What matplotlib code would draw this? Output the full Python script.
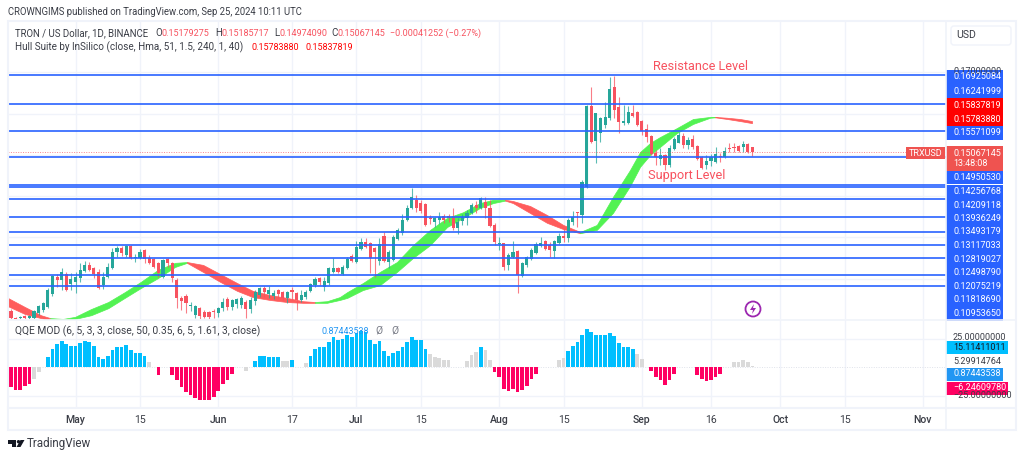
import matplotlib
matplotlib.use("Agg")
import matplotlib.pyplot as plt
from matplotlib.patches import Rectangle, Polygon, Circle, FancyBboxPatch
import numpy as np

plt.rcParams['font.family'] = ['Roboto', 'DejaVu Sans']

# days are counted from May 1 2024, prices in 1/10000 USD
days = np.arange(-14, 148)

opens = [1121, 1104, 1104, 1109, 1104, 1104, 1116, 1124, 1131, 1162,
         1204, 1196, 1211, 1187, 1192, 1201, 1218, 1233, 1225, 1216,
         1184, 1204, 1225, 1264, 1274, 1257, 1279, 1250, 1250, 1269,
         1250, 1247, 1238, 1204, 1247, 1238, 1196, 1153, 1157, 1133,
         1111, 1128, 1119, 1119, 1121, 1116, 1128, 1150, 1131, 1138,
         1136, 1143, 1126, 1145, 1160, 1177, 1162, 1157, 1172, 1167,
         1153, 1172, 1165, 1148, 1155, 1170, 1184, 1201, 1179, 1189,
         1216, 1225, 1211, 1225, 1255, 1240, 1272, 1289, 1286, 1274,
         1242, 1303, 1240, 1245, 1296, 1310, 1342, 1371, 1391, 1383,
         1381, 1347, 1337, 1342, 1352, 1352, 1347, 1323, 1340, 1347,
         1359, 1378, 1371, 1386, 1371, 1330, 1284, 1286, 1233, 1252,
         1267, 1206, 1233, 1247, 1262, 1279, 1291, 1281, 1267, 1286,
         1303, 1298, 1337, 1361, 1354, 1422, 1618, 1534, 1553, 1572,
         1590, 1665, 1616, 1577, 1577, 1602, 1604, 1582, 1563, 1546,
         1504, 1490, 1500, 1475, 1514, 1529, 1546, 1524, 1538, 1521,
         1495, 1475, 1485, 1483, 1497, 1495, 1517, 1519, 1521, 1519, 1526, 1518]
highs = [1126, 1107, 1109, 1111, 1111, 1124, 1136, 1143, 1177, 1208,
         1211, 1225, 1216, 1213, 1216, 1238, 1242, 1240, 1228, 1223,
         1216, 1238, 1274, 1279, 1279, 1281, 1281, 1259, 1272, 1272,
         1257, 1250, 1240, 1247, 1250, 1240, 1201, 1157, 1162, 1143,
         1136, 1131, 1124, 1121, 1126, 1131, 1153, 1155, 1150, 1153,
         1157, 1148, 1155, 1172, 1179, 1182, 1182, 1172, 1175, 1170,
         1170, 1179, 1167, 1172, 1172, 1189, 1204, 1204, 1204, 1228,
         1250, 1228, 1233, 1252, 1259, 1291, 1298, 1298, 1289, 1276,
         1298, 1313, 1269, 1306, 1323, 1357, 1378, 1420, 1403, 1391,
         1383, 1354, 1349, 1361, 1357, 1357, 1371, 1347, 1357, 1366,
         1383, 1388, 1398, 1398, 1391, 1335, 1301, 1286, 1262, 1291,
         1269, 1240, 1255, 1274, 1289, 1301, 1293, 1289, 1293, 1310,
         1323, 1347, 1364, 1361, 1439, 1621, 1665, 1602, 1592, 1628,
         1689, 1691, 1640, 1621, 1618, 1621, 1606, 1585, 1575, 1548,
         1512, 1517, 1502, 1524, 1543, 1555, 1553, 1543, 1548, 1524,
         1497, 1500, 1502, 1519, 1504, 1519, 1529, 1529, 1524, 1534, 1529, 1519]
lows = [1102, 1102, 1102, 1102, 1102, 1102, 1111, 1119, 1128, 1157,
        1179, 1172, 1170, 1172, 1165, 1192, 1216, 1218, 1201, 1175,
        1175, 1201, 1223, 1252, 1255, 1252, 1247, 1240, 1247, 1238,
        1235, 1225, 1204, 1201, 1228, 1192, 1128, 1124, 1116, 1121,
        1104, 1102, 1104, 1102, 1104, 1107, 1121, 1124, 1124, 1128,
        1128, 1104, 1116, 1136, 1155, 1155, 1153, 1150, 1153, 1148,
        1141, 1148, 1124, 1143, 1150, 1167, 1179, 1184, 1170, 1184,
        1213, 1213, 1208, 1223, 1240, 1238, 1269, 1274, 1213, 1204,
        1233, 1240, 1225, 1242, 1293, 1306, 1340, 1369, 1361, 1359,
        1327, 1332, 1325, 1332, 1335, 1337, 1318, 1308, 1330, 1330,
        1357, 1359, 1369, 1347, 1325, 1281, 1269, 1221, 1221, 1250,
        1165, 1204, 1228, 1245, 1259, 1276, 1269, 1252, 1250, 1284,
        1289, 1289, 1330, 1325, 1335, 1420, 1529, 1480, 1531, 1565,
        1585, 1590, 1553, 1572, 1575, 1592, 1570, 1548, 1531, 1500,
        1475, 1475, 1463, 1471, 1512, 1529, 1517, 1514, 1514, 1487,
        1466, 1466, 1473, 1480, 1483, 1492, 1507, 1507, 1507, 1507, 1504, 1497]
closes = [1104, 1103, 1107, 1104, 1109, 1121, 1133, 1141, 1172, 1206,
          1196, 1216, 1172, 1199, 1204, 1221, 1233, 1221, 1211, 1177,
          1204, 1228, 1264, 1274, 1262, 1279, 1250, 1252, 1264, 1247,
          1238, 1228, 1213, 1245, 1238, 1201, 1153, 1145, 1141, 1136,
          1133, 1109, 1107, 1107, 1119, 1128, 1143, 1131, 1148, 1150,
          1153, 1126, 1148, 1167, 1177, 1167, 1172, 1165, 1162, 1153,
          1167, 1167, 1148, 1160, 1167, 1187, 1199, 1192, 1194, 1225,
          1225, 1216, 1228, 1247, 1242, 1276, 1289, 1276, 1250, 1264,
          1284, 1242, 1264, 1301, 1318, 1342, 1371, 1398, 1371, 1364,
          1330, 1344, 1347, 1349, 1342, 1347, 1323, 1337, 1349, 1359,
          1378, 1371, 1395, 1371, 1327, 1289, 1286, 1228, 1257, 1264,
          1208, 1238, 1252, 1269, 1284, 1286, 1272, 1269, 1291, 1303,
          1298, 1342, 1349, 1359, 1434, 1618, 1531, 1602, 1590, 1592,
          1660, 1609, 1580, 1582, 1604, 1594, 1572, 1558, 1543, 1502,
          1495, 1500, 1475, 1517, 1538, 1548, 1524, 1536, 1519, 1490,
          1468, 1485, 1495, 1502, 1495, 1509, 1514, 1517, 1509, 1526, 1507, 1507]

# hull band edges, the colour flips at the turn days
hull_days = [-14.7, -11, -7.5, -5.5, -2.7, -0.1, 3.4, 7.1, 10.7, 14.2, 17.9, 21.6, 24.2,
             27.7, 31.4, 35.1, 38.5, 42.2, 45.9, 49.4, 52, 54.6, 57.4, 59, 62.4, 66.1,
             69.8, 73.3, 77, 80.7, 84.2, 87.8, 90.7, 93.3, 95, 98.7, 102.4, 105.9, 109.6,
             113.2, 116.7, 120.4, 122.6, 124.8, 126.9, 130.6, 134.1, 137.8, 138.9, 141.5,
             144.3, 146.9]
hull_top = [1153, 1131, 1111, 1104, 1102, 1107, 1126, 1143, 1167, 1192, 1221, 1238, 1240,
            1233, 1211, 1189, 1170, 1160, 1153, 1145, 1143, 1145, 1155, 1167, 1189, 1216,
            1240, 1281, 1318, 1347, 1361, 1383, 1391, 1391, 1388, 1376, 1354, 1330, 1313,
            1330, 1398, 1463, 1507, 1529, 1543, 1565, 1587, 1592, 1592, 1590,
            1587, 1582]
hull_bottom = [1133, 1114, 1104, 1099, 1097, 1102, 1111, 1128, 1153, 1177, 1201, 1228, 1238,
               1216, 1192, 1170, 1155, 1148, 1143, 1141, 1141, 1141, 1148, 1153, 1172, 1184,
               1216, 1250, 1281, 1325, 1347, 1371, 1383, 1389, 1383, 1359, 1335, 1320, 1310,
               1318, 1359, 1424, 1471, 1500, 1519, 1553, 1575, 1590, 1591, 1587,
               1582, 1577]
hull_turns = [-14.7, -5.5, 24.2, 52, 93.3, 109.6, 138.9, 146.9]
hull_turn_colors = ['#ff5c5c', '#52f252', '#ff5c5c', '#52f252', '#ff5c5c', '#52f252', '#ff5c5c']

# horizontal levels drawn on the chart
levels = [0.16925084, 0.16241999, 0.15571099, 0.14950530, 0.14256768, 0.14209118, 0.13936249,
          0.13493179, 0.13117033, 0.12819027, 0.12498790, 0.12075219, 0.11818690, 0.10953650]
last_close = 0.15067145

# QQE histogram, one bar a day
qqe_values = [-17.5, -19.6, -19.6, -16.7, -14.3, -10.2, -4.4, 0, 8.8, 16.4,
              20.5, 23.4, 20.5, 18.7, 18.7, 21, 22.8, 22.2, 18.7, 8.8,
              7.6, 9.6, 14.9, 17.8, 17.8, 19.3, 14.9, 12.6, 12.6, 9.6,
              4.7, 0, -6.4, 0, 0, -6.4, -10.8, -17.5, -21.6, -24.6,
              -26.9, -28.9, -28.4, -28.4, -26.3, -21, -14.6, -11.4, -5.8, 0,
              0, -2.9, 0, 5.3, 10.2, 10.2, 9.4, 8.8, 8.8, 5.3,
              5.3, 6.7, 0, 0, 3.8, 9.6, 16.4, 17.5, 17.8, 22.2,
              26.3, 24.3, 24.6, 28.7, 26.9, 30.1, 31.6, 31, 24.3, 20.8,
              22.8, 14, 10.2, 12.6, 14.6, 17.8, 22.2, 26.3, 24.3, 23.7,
              16.1, 11.7, 8.8, 8.2, 6.1, 6.7, 0, 0, 0, 5.3,
              11.1, 13.5, 17.8, 15.2, 6.1, -4.4, -8.5, -19, -20.5, -19,
              -21.3, -19.6, -16, -10.5, -5.8, 0, 0, 0, 0, 6.1,
              8.2, 14.6, 18.4, 22.2, 28.7, 33.9, 30.7, 28.7, 28.7, 28.7,
              30.1, 27.2, 21.3, 17.8, 17.5, 16.1, 11.7, 7.6, 0, -3.5,
              -8.5, -11.4, -15.2, -10.8, -5.6, 0, 0, 0, 0, -7,
              -10.2, -11.7, -10.8, -8.8, -5.8, 0, 0, 4.4, 4.4, 6.7, 4.7, 0.87]
qqe_gray_days = [-9, -8, 16, 37, 45, 46, 50, 77, 78, 79, 80, 81, 85, 86, 87, 89, 90,
                 105, 106, 122, 123, 143, 144, 145, 146, 147]

tick_days = [0, 14, 31, 47, 61, 75, 92, 106, 123, 138, 153, 167, 184]
tick_labels = ['May', '15', 'Jun', '17', 'Jul', '15', 'Aug', '15', 'Sep', '16', 'Oct', '15', 'Nov']

price_labels = ['0.16925084', '0.16241999', '0.15837819', '0.15783880', '0.15571099',
                '0.14950530', '0.14256768', '0.14209118', '0.13936249', '0.13493179',
                '0.13117033', '0.12819027', '0.12498790', '0.12075219', '0.11818690', '0.10953650']

W, H = 1024, 458
BLUE = '#2962ff'
TEAL = '#26a69a'
RED = '#f7525f'
GRID = '#f0f3fa'
TEXT = '#3a3d46'
NUM = 6.5  # numbers in the scales and legends

fig = plt.figure(figsize=(W / 100, H / 100), dpi=100, facecolor='white')


def pane(x0, y0, x1, y1):
    ax = fig.add_axes([x0 / W, 1 - y1 / H, (x1 - x0) / W, (y1 - y0) / H])
    for s in ax.spines.values():
        s.set_visible(False)
    ax.set_xlim(-14.66, 189.03)
    ax.set_xticks(tick_days)
    ax.tick_params(length=0, labelleft=False, labelbottom=False)
    ax.grid(True, color=GRID, lw=1)
    ax.set_axisbelow(True)
    return ax


# price pane
ax = pane(8, 21, 946, 319)
ax.set_ylim(0.11018, 0.18247)
ax.set_yticks([0.12, 0.13, 0.14, 0.15, 0.16, 0.17])

o = np.array(opens) / 1e4
h = np.array(highs) / 1e4
l = np.array(lows) / 1e4
c = np.array(closes) / 1e4
candle_colors = [TEAL if b >= a else RED for a, b in zip(o, c)]

hd = np.array(hull_days)
ht = np.array(hull_top) / 1e4
hb = np.array(hull_bottom) / 1e4
for i in range(len(hull_turn_colors)):
    m = (hd >= hull_turns[i]) & (hd <= hull_turns[i + 1])
    ax.fill_between(hd[m], hb[m], ht[m], color=hull_turn_colors[i], lw=0.5, zorder=2)

ax.vlines(days, l, h, colors=candle_colors, lw=0.8, alpha=0.75, zorder=3)
ax.bar(days, np.maximum(np.abs(c - o), 0.00008), bottom=np.minimum(o, c), width=0.68,
       color=candle_colors, zorder=4)

ax.axhline(last_close, color=RED, lw=0.7, ls=(0, (1, 1.5)), alpha=0.7, zorder=5)
ax.hlines(levels, -14.66, 189.03, colors=BLUE, lw=1.3, alpha=0.92, zorder=6)

# QQE pane
ax2 = pane(8, 320, 946, 407)
ax2.set_ylim(-34.8, 41.5)
ax2.set_yticks([-25, 25])
ax2.axhline(0, color='#dfe2ea', lw=0.7, ls=(0, (1, 1.5)))
qqe_colors = []
for d, v in zip(days, qqe_values):
    if d in qqe_gray_days:
        qqe_colors.append('#dadada')
    elif v >= 0:
        qqe_colors.append('#00bfff')
    else:
        qqe_colors.append('#ff0062')
ax2.bar(days, qqe_values, width=0.8, color=qqe_colors, zorder=3)
ax2.tick_params(labelbottom=True, pad=5.5, labelsize=7.6, labelcolor=TEXT)
ax2.set_xticklabels(tick_labels)
for t, s in zip(ax2.get_xticklabels(), tick_labels):
    if not s.isdigit():
        t.set_fontweight('medium')

# everything else sits on a pixel overlay
ov = fig.add_axes([0, 0, 1, 1], zorder=10)
ov.set_xlim(0, W)
ov.set_ylim(H, 0)
ov.axis('off')
ov.patch.set_alpha(0)

ov.add_patch(Rectangle((7.5, 21), 1008, 409, fill=False, ec=GRID, lw=1.5))
ov.plot([946, 946], [21, 430], color=GRID, lw=1.2)
ov.plot([8, 1015], [319.5, 319.5], color=GRID, lw=1.2)
ov.plot([8, 1015], [407.5, 407.5], color=GRID, lw=1.5)


def txt(x, y, s, color=TEXT, size=7.4, **kw):
    return ov.text(x, y, s, color=color, fontsize=size, va='center', **kw)


def box(x0, y0, x1, y1, color):
    ov.add_patch(Rectangle((x0, y0), x1 - x0, y1 - y0, color=color, lw=0))


txt(8, 12, 'CROWNGIMS published on TradingView.com, Sep 25, 2024 10:11 UTC', size=6.85)
txt(15, 33, 'TRON / US Dollar, 1D, BINANCE', size=6.9)
for x, s in zip([155, 215, 274, 331], 'OHLC'):
    txt(x, 33, s, size=7)
for x, s in zip([162, 221, 279, 337, 390],
                ['0.15179275', '0.15185717', '0.14974090', '0.15067145', '\u22120.00041252 (\u22120.27%)']):
    txt(x, 33, s, color='#f7525f', size=NUM)
txt(15, 47, 'Hull Suite by InSilico (close, Hma, 51, 1.5, 240, 1, 40)', size=7.15)
txt(252, 47, '0.15783880', color='#ff0000', size=NUM)
txt(305, 47, '0.15837819', color='#ff0000', size=NUM)
txt(15, 331, 'QQE MOD (6, 5, 3, 3, close, 50, 0.35, 6, 5, 1.61, 3, close)', size=7.4)
txt(321, 331, '0.87443538', color='#2196f3', size=NUM)
txt(375, 331, '\u00d8', color='#787b86')
txt(391, 331, '\u00d8', color='#787b86')

txt(653, 67, 'Resistance Level', color=RED, size=9.2)
txt(648, 175, 'Support Level', color=RED, size=9.2)

# USD button
ov.add_patch(FancyBboxPatch((951, 26), 60, 19, boxstyle='round,pad=0,rounding_size=3',
                            fc='white', ec=GRID, lw=1))
txt(956, 35.5, 'USD', size=7.6)

# price scale
txt(953, 72, '0.17000000', size=NUM)
label_rows = [76.7, 91, 105, 119, 132.5, 177, 191.5, 205, 218.5, 232, 245.5, 259, 272.5, 286.5, 300, 313.5]
for y, s in zip(label_rows, price_labels):
    bg = '#ff0000' if s in ('0.15837819', '0.15783880') else BLUE
    box(946, y - 7, 1003, y + 7, bg)
for y, s in zip(label_rows, price_labels):
    txt(953, y, s, color='white', size=NUM)
box(946, 146, 1003, 171, '#ef5350')
txt(953, 153, '0.15067145', color='white', size=NUM)
txt(953, 164, '13:48:08', color='white', size=NUM)
box(906, 147, 945, 159, '#ef5350')
txt(909, 153, 'TRXUSD', color='white', size=NUM)

# QQE scale
txt(953, 338, '25.00000000', size=NUM)
txt(953, 395.5, '\u221225.00000000', size=NUM)
box(946, 341, 1008, 354, '#00bfff')
txt(953, 347.5, '15.11411011', color='#131722', size=NUM)
txt(953, 361, '5.29914764', size=NUM)
box(946, 367.5, 1003, 380.5, '#2196f3')
txt(953, 374, '0.87443538', color='white', size=NUM)
box(946, 381.5, 1008, 394.5, '#ff0062')
txt(953, 388, '\u22126.24609780', color='white', size=NUM)

# replay icon in the chart
ov.add_patch(Circle((753, 309), 7.5, fill=False, ec='#9c27b0', lw=1.3))
ov.add_patch(Polygon([(754, 304), (750, 310), (753, 310), (752, 314), (756, 308), (753, 308)],
                     color='#9c27b0', lw=0))

# TradingView mark
ov.add_patch(Polygon([(8, 440), (16, 440), (16, 447), (12, 447), (12, 443.5), (8, 443.5)],
                     color='#131722', lw=0))
ov.add_patch(Circle((18.5, 441.7), 1.7, color='#131722', lw=0))
ov.add_patch(Polygon([(20.5, 440), (24.5, 440), (20.5, 447), (16.5, 447)], color='#131722', lw=0))
txt(27, 444, 'TradingView', size=8.4, color='#3a3d46')

fig.savefig('out.png', dpi=100)
